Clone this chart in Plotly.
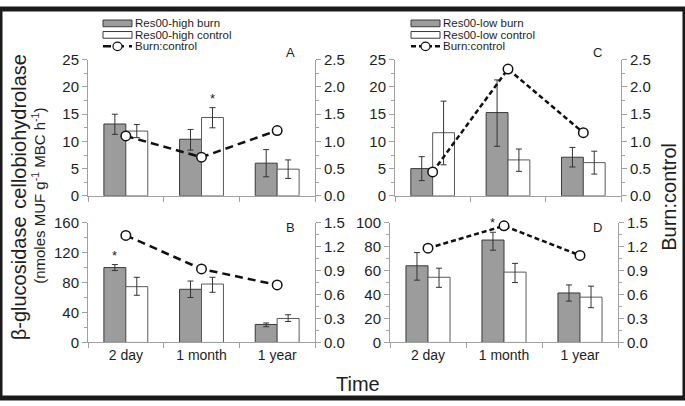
import plotly.graph_objects as go

W, H = 685, 406
cats = ["2 day", "1 month", "1 year"]

# Panel A: cellobiohydrolase, Res00-high
A_burn = [13.2, 10.4, 6.0]
A_burn_hi = [15.0, 12.2, 8.5]
A_burn_lo = [11.3, 8.4, 3.5]
A_ctrl = [11.9, 14.4, 4.9]
A_ctrl_hi = [13.1, 16.2, 6.6]
A_ctrl_lo = [10.7, 12.5, 3.2]
A_ratio = [1.10, 0.71, 1.20]

# Panel B: beta-glucosidase, Res00-high
B_burn = [100.0, 71.0, 24.0]
B_burn_hi = [104.0, 82.0, 26.0]
B_burn_lo = [96.0, 60.0, 21.0]
B_ctrl = [74.5, 78.0, 32.0]
B_ctrl_hi = [87.0, 87.0, 37.0]
B_ctrl_lo = [63.0, 67.0, 28.0]
B_ratio = [1.34, 0.92, 0.72]

# Panel C: cellobiohydrolase, Res00-low
C_burn = [5.0, 15.3, 7.1]
C_burn_hi = [7.2, 21.3, 8.9]
C_burn_lo = [2.8, 9.1, 5.3]
C_ctrl = [11.6, 6.6, 6.1]
C_ctrl_hi = [17.4, 8.6, 8.2]
C_ctrl_lo = [5.7, 4.5, 4.0]
C_ratio = [0.44, 2.33, 1.16]

# Panel D: beta-glucosidase, Res00-low
D_burn = [64.0, 85.5, 41.3]
D_burn_hi = [75.0, 92.0, 48.0]
D_burn_lo = [52.0, 77.0, 34.5]
D_ctrl = [54.4, 58.7, 37.8]
D_ctrl_hi = [62.0, 66.0, 47.0]
D_ctrl_lo = [46.0, 50.0, 29.0]
D_ratio = [1.18, 1.46, 1.09]

# significance stars: (category index, series)
A_stars = [(1, "ctrl")]
B_stars = [(0, "burn")]
C_stars = []
D_stars = [(1, "burn")]

FONT = "Arial, Liberation Sans, sans-serif"
BURN_FILL = "#9c9c9c"
AX = "#a0a0a0"
TXT = "#1e1e1e"
BARGAP = 0.42


def px_x(p):
    return p / W


def px_y(p):
    return (H - p) / H


panels = [
    dict(n="A", burn=A_burn, bhi=A_burn_hi, blo=A_burn_lo, ctrl=A_ctrl, chi=A_ctrl_hi, clo=A_ctrl_lo,
         ratio=A_ratio, stars=A_stars, xd=(88, 315), yd=(53, 195), dash="8px,5px",
         lr=[0, 25], ld=5, lm=2.5, rr=[0, 2.5], rd=0.5, rm=0.25, xlab=False, lab=(290, 45)),
    dict(n="B", burn=B_burn, bhi=B_burn_hi, blo=B_burn_lo, ctrl=B_ctrl, chi=B_ctrl_hi, clo=B_ctrl_lo,
         ratio=B_ratio, stars=B_stars, xd=(88, 315), yd=(223, 348), dash="8px,5px",
         lr=[0, 160], ld=40, lm=20, rr=[0, 1.5], rd=0.3, rm=0.15, xlab=True, lab=(290, 228)),
    dict(n="C", burn=C_burn, bhi=C_burn_hi, blo=C_burn_lo, ctrl=C_ctrl, chi=C_ctrl_hi, clo=C_ctrl_lo,
         ratio=C_ratio, stars=C_stars, xd=(395, 621), yd=(53, 195), dash="5px,3px",
         lr=[0, 25], ld=5, lm=2.5, rr=[0, 2.5], rd=0.5, rm=0.25, xlab=False, lab=(597, 45)),
    dict(n="D", burn=D_burn, bhi=D_burn_hi, blo=D_burn_lo, ctrl=D_ctrl, chi=D_ctrl_hi, clo=D_ctrl_lo,
         ratio=D_ratio, stars=D_stars, xd=(390, 618), yd=(223, 348), dash="5px,3px",
         lr=[0, 100], ld=20, lm=10, rr=[0, 1.5], rd=0.3, rm=0.15, xlab=True, lab=(597, 228)),
]

fig = go.Figure()
layout = {}
annotations = []


def err(vals, hi, lo):
    return dict(type="data", symmetric=False,
                array=[h - v for h, v in zip(hi, vals)],
                arrayminus=[v - l for v, l in zip(vals, lo)],
                color="#333333", thickness=1, width=3)


for i, p in enumerate(panels):
    xi = i + 1
    yl = 2 * i + 1
    yr = 2 * i + 2
    xname = "x" if xi == 1 else f"x{xi}"
    ylname = "y" if yl == 1 else f"y{yl}"
    yrname = f"y{yr}"

    fig.add_trace(go.Bar(x=cats, y=p["burn"], xaxis=xname, yaxis=ylname,
                         marker=dict(color=BURN_FILL, line=dict(color="#3a3a3a", width=1)),
                         error_y=err(p["burn"], p["bhi"], p["blo"]), showlegend=False))
    fig.add_trace(go.Bar(x=cats, y=p["ctrl"], xaxis=xname, yaxis=ylname,
                         marker=dict(color="white", line=dict(color="#5a5a5a", width=1)),
                         error_y=err(p["ctrl"], p["chi"], p["clo"]), showlegend=False))
    fig.add_trace(go.Scatter(x=cats, y=p["ratio"], xaxis=xname, yaxis=yrname, mode="lines+markers",
                             line=dict(color="#111111", width=2.5, dash=p["dash"]),
                             marker=dict(symbol="circle", size=9.5, color="white",
                                         line=dict(color="#111111", width=1.5)),
                             showlegend=False, cliponaxis=False))

    xdom = [px_x(p["xd"][0]), px_x(p["xd"][1])]
    ydom = [px_y(p["yd"][1]), px_y(p["yd"][0])]
    xkey = "xaxis" if xi == 1 else f"xaxis{xi}"
    ylkey = "yaxis" if yl == 1 else f"yaxis{yl}"
    yrkey = f"yaxis{yr}"
    tickfont = dict(family=FONT, size=15, color=TXT)
    layout[xkey] = dict(domain=xdom, anchor=ylname, type="category", tickson="boundaries",
                        ticks="outside", ticklen=5, tickcolor=AX, showline=True, linecolor=AX,
                        linewidth=1, showgrid=False, showticklabels=p["xlab"],
                        tickfont=dict(family=FONT, size=14, color=TXT), zeroline=False,
                        fixedrange=True)
    layout[ylkey] = dict(domain=ydom, anchor=xname, range=p["lr"], dtick=p["ld"], tick0=0,
                         ticks="outside", ticklen=5, tickcolor=AX, showline=True, linecolor=AX,
                         linewidth=1, showgrid=False, zeroline=False, tickfont=tickfont,
                         minor=dict(dtick=p["lm"], ticks="outside", ticklen=3, tickcolor=AX))
    layout[yrkey] = dict(domain=ydom, anchor=xname, overlaying=ylname, side="right",
                         range=p["rr"], dtick=p["rd"], tick0=0, tickformat=".1f",
                         ticks="outside", ticklen=5, tickcolor=AX, showline=True, linecolor=AX,
                         linewidth=1, showgrid=False, zeroline=False, tickfont=tickfont,
                         minor=dict(dtick=p["rm"], ticks="outside", ticklen=3, tickcolor=AX))

    # significance stars placed above the relevant error bar
    half = (1 - BARGAP) / 4
    for ci, series in p["stars"]:
        top = p["bhi"][ci] if series == "burn" else p["chi"][ci]
        xpos = ci - half if series == "burn" else ci + half
        annotations.append(dict(x=xpos, y=top, xref=xname, yref=ylname, text="*",
                                showarrow=False, xanchor="center", yanchor="bottom", yshift=0,
                                font=dict(family=FONT, size=13, color=TXT)))

    annotations.append(dict(x=px_x(p["lab"][0]), y=px_y(p["lab"][1]), xref="paper", yref="paper",
                            text=p["n"], showarrow=False, xanchor="center", yanchor="middle",
                            font=dict(family=FONT, size=13, color=TXT)))

# axis titles
title_specs = [
    ("cellobiohydrolase", 19, 128, 20, -90),
    ("β-glucosidase", 19, 281, 20, -90),
    ("(nmoles MUF g<sup>-1</sup> MBC h<sup>-1</sup>)", 39, 195, 15, -90),
    ("Burn:control", 669, 196, 20, -90),
    ("Time", 358, 391, 20, 0),
]
for text, xp, yp, fs, ang in title_specs:
    annotations.append(dict(x=px_x(xp), y=px_y(yp), xref="paper", yref="paper", text=text,
                            textangle=ang, showarrow=False, xanchor="center", yanchor="middle",
                            font=dict(family=FONT, size=fs, color=TXT)))

# manual legends (swatches + labels)
shapes = []
legends = [
    dict(x0=103, names=["Res00-high burn", "Res00-high control", "Burn:control"], dash="8px,5px"),
    dict(x0=411, names=["Res00-low burn", "Res00-low control", "Burn:control"], dash="5px,3px"),
]
rows = [15, 27, 39]
for lg in legends:
    x0 = lg["x0"]
    x1 = x0 + 29
    shapes.append(dict(type="rect", xref="paper", yref="paper", x0=px_x(x0), x1=px_x(x1),
                       y0=px_y(rows[0] + 3.5), y1=px_y(rows[0] - 3.5),
                       fillcolor=BURN_FILL, line=dict(color="#3a3a3a", width=1)))
    shapes.append(dict(type="rect", xref="paper", yref="paper", x0=px_x(x0), x1=px_x(x1),
                       y0=px_y(rows[1] + 3.5), y1=px_y(rows[1] - 3.5),
                       fillcolor="white", line=dict(color="#3a3a3a", width=1)))
    shapes.append(dict(type="line", xref="paper", yref="paper", x0=px_x(x0), x1=px_x(x1),
                       y0=px_y(rows[2]), y1=px_y(rows[2]),
                       line=dict(color="#111111", width=2.5, dash=lg["dash"])))
    cx = (x0 + x1) / 2
    shapes.append(dict(type="circle", xref="paper", yref="paper", x0=px_x(cx - 4.5), x1=px_x(cx + 4.5),
                       y0=px_y(rows[2] + 4.5), y1=px_y(rows[2] - 4.5),
                       fillcolor="white", line=dict(color="#111111", width=1.2)))
    for r, name in zip(rows, lg["names"]):
        annotations.append(dict(x=px_x(x1 + 2), y=px_y(r), xref="paper", yref="paper", text=name,
                                showarrow=False, xanchor="left", yanchor="middle", borderpad=0,
                                font=dict(family=FONT, size=11.5, color=TXT)))

# outer frame
shapes.append(dict(type="rect", xref="paper", yref="paper", x0=0, x1=1, y0=0, y1=1,
                   line=dict(color="#1a1a1a", width=5), fillcolor="rgba(0,0,0,0)", layer="above"))

fig.update_layout(
    width=W, height=H, autosize=False,
    margin=dict(l=0, r=0, t=0, b=0),
    paper_bgcolor="white", plot_bgcolor="white",
    barmode="group", bargap=BARGAP, bargroupgap=0,
    showlegend=False,
    font=dict(family=FONT, color=TXT),
    annotations=annotations, shapes=shapes,
    **layout,
)

post = (
    "var st=document.createElement('style');"
    "st.textContent='html,body{margin:0;padding:0;overflow:hidden;}';"
    "document.head.appendChild(st);"
    "var gd=document.getElementById('{plot_id}');"
    "gd.style.position='absolute';gd.style.left='0px';gd.style.top='0px';"
)
fig.write_html("out.html", config={"displayModeBar": False}, post_script=post)
